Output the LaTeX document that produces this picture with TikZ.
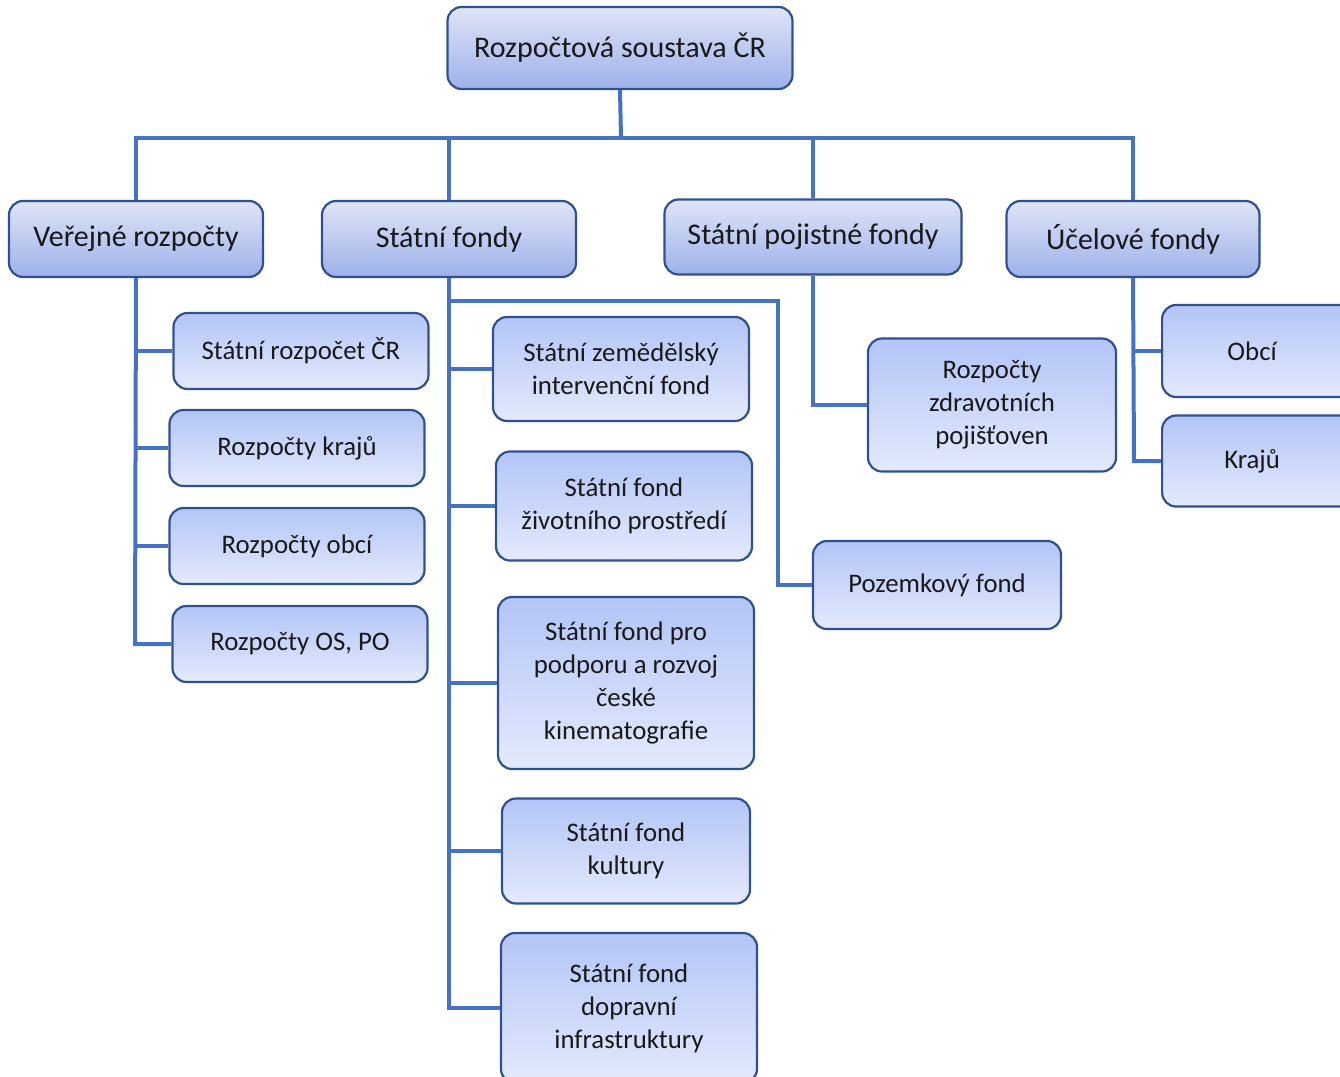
\documentclass[tikz,border=0pt]{standalone}
\usepackage{fontspec}
\setmainfont{Carlito}
\begin{document}
\begin{tikzpicture}[x=1pt,y=-1pt,
  box/.style={draw=boxborder, line width=2.2pt, rounded corners=14pt, align=center,
     inner sep=4pt, text=black!90},
  topbox/.style={box, top color=topA, bottom color=topB, font=\fontsize{30}{36}\selectfont},
  subbox/.style={box, top color=subA, bottom color=subB, font=\fontsize{26.8}{33}\selectfont},
  conn/.style={draw=connc, line width=4pt}]
\definecolor{boxborder}{HTML}{2F528F}
\definecolor{topA}{HTML}{DFE4F6}
\definecolor{topB}{HTML}{9DB1EA}
\definecolor{subA}{HTML}{B3C5F7}
\definecolor{subB}{HTML}{E4EAFC}
\definecolor{connc}{HTML}{4472C4}
\useasboundingbox (0,0) rectangle (1340,1076);

% nodes
\node[topbox, minimum width=345pt, minimum height=82pt] (root) at (620,48) {Rozpočtová soustava ČR};
\node[topbox, minimum width=254pt, minimum height=76pt] (ver) at (136,239) {Veřejné rozpočty};
\node[topbox, minimum width=254pt, minimum height=76pt] (sf) at (449,239) {Státní fondy};
\node[topbox, minimum width=297pt, minimum height=75pt] (spf) at (813,237) {Státní pojistné fondy};
\node[topbox, minimum width=253pt, minimum height=76pt] (uf) at (1133,239) {Účelové fondy};

\node[subbox, minimum width=255pt, minimum height=76pt] (v1) at (301,351) {Státní rozpočet ČR};
\node[subbox, minimum width=255pt, minimum height=76pt] (v2) at (297,448) {Rozpočty krajů};
\node[subbox, minimum width=255pt, minimum height=76pt] (v3) at (297,546) {Rozpočty obcí};
\node[subbox, minimum width=255pt, minimum height=76pt] (v4) at (300,644) {Rozpočty OS, PO};

\node[subbox, minimum width=256pt, minimum height=104pt] (s1) at (621,369) {Státní zemědělský\\intervenční fond};
\node[subbox, minimum width=256pt, minimum height=109pt] (s2) at (624,506) {Státní fond\\životního prostředí};
\node[subbox, minimum width=256pt, minimum height=172pt] (s3) at (626,683) {Státní fond pro\\podporu a rozvoj\\české\\kinematografie};
\node[subbox, minimum width=248pt, minimum height=105pt] (s4) at (626,851) {Státní fond\\kultury};
\node[subbox, minimum width=256pt, minimum height=150pt] (s5) at (629,1008) {Státní fond\\dopravní\\infrastruktury};
\node[subbox, minimum width=248pt, minimum height=88pt] (s6) at (937,585) {Pozemkový fond};

\node[subbox, minimum width=248pt, minimum height=133pt] (p1) at (992,405) {Rozpočty\\zdravotních\\pojišťoven};

\node[subbox, minimum width=200pt, minimum height=92pt, anchor=west] (u1) at (1161,351) {\hspace*{-20pt}Obcí};
\node[subbox, minimum width=200pt, minimum height=91pt, anchor=west] (u2) at (1161,461) {\hspace*{-20pt}Krajů};

% connectors
\coordinate (bus) at (621,138);
\draw[conn] (root.south) -- (bus);
\draw[conn] (ver.north) |- (bus) -| (uf.north);
\draw[conn] (sf.north) -- (sf.north |- bus);
\draw[conn] (spf.north) -- (spf.north |- bus);

\coordinate (vx) at (135,0);
\draw[conn] (ver.south) -- (vx |- v4.west) -- (v4.west);
\foreach \n in {v1,v2,v3} \draw[conn] (vx |- \n.west) -- (\n.west);

\coordinate (sx) at (449,0);
\draw[conn] (sf.south) -- (sx |- s5.west) -- (s5.west);
\foreach \n in {s1,s2,s3,s4} \draw[conn] (sx |- \n.west) -- (\n.west);
\coordinate (pz) at (778,301);
\draw[conn] (sx |- pz) -- (pz) |- (s6.west);

\draw[conn] (spf.south) |- (p1.west);

\coordinate (ux) at (1134,0);
\draw[conn] (uf.south) -- (ux |- u2.west) -- (u2.west);
\draw[conn] (ux |- u1.west) -- (u1.west);
\end{tikzpicture}
\end{document}
